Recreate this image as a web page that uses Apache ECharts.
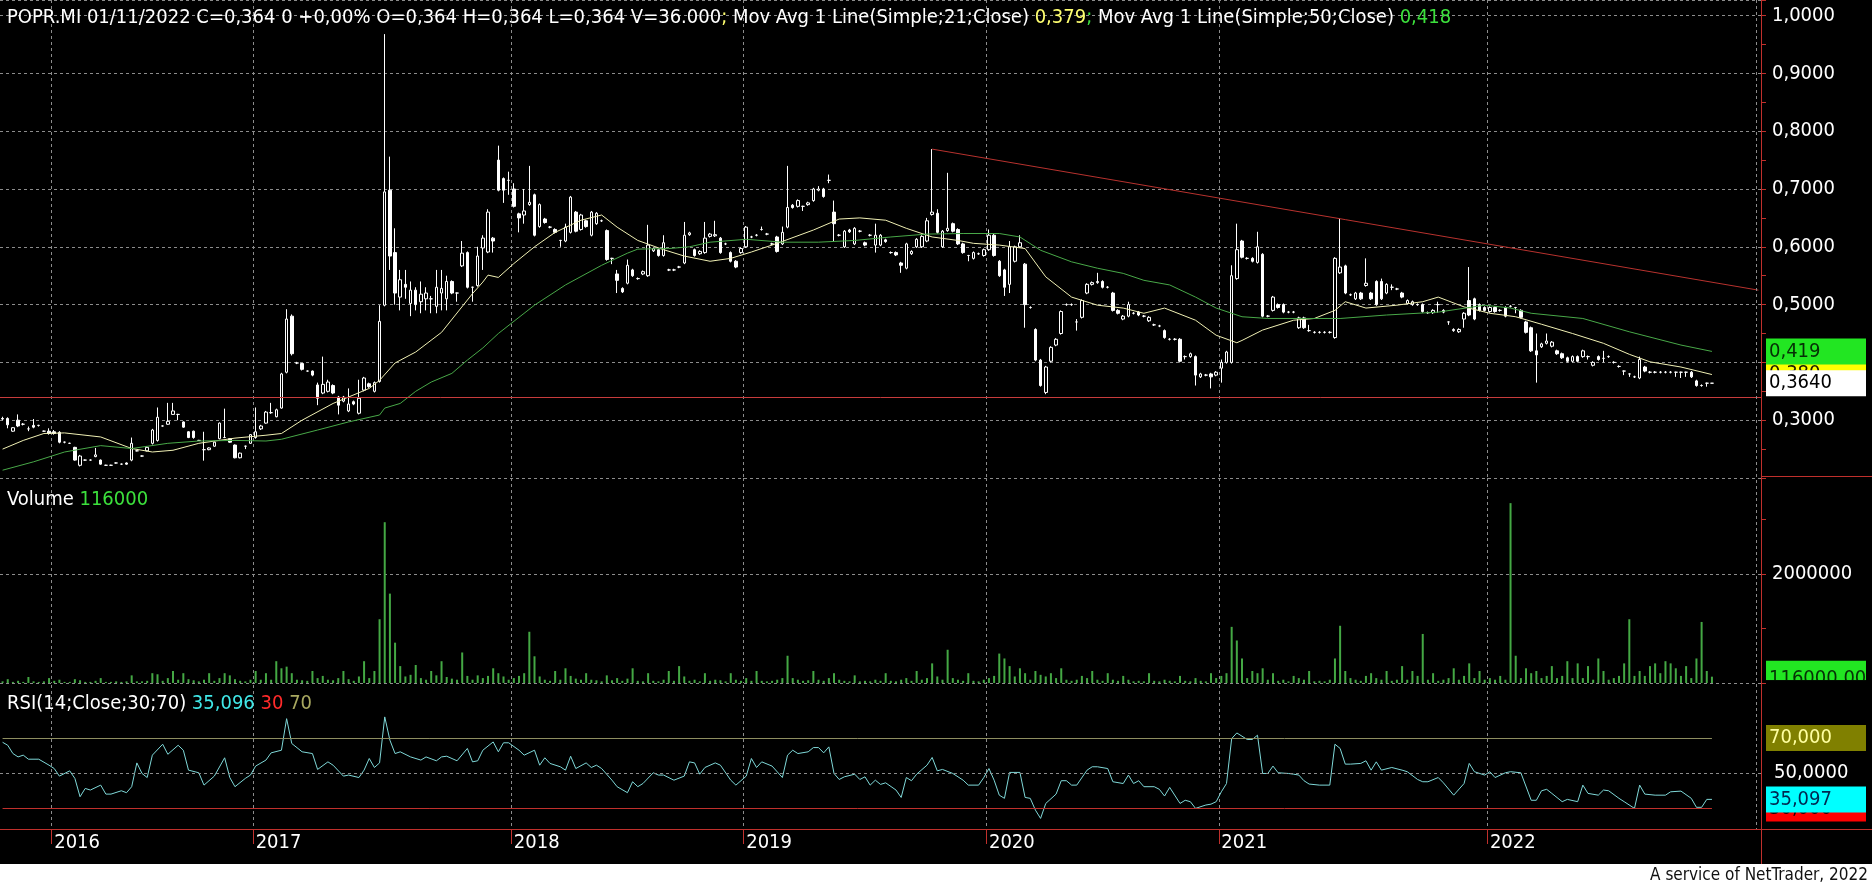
<!DOCTYPE html>
<html><head><meta charset="utf-8">
<script src="https://cdn.jsdelivr.net/npm/echarts@6/dist/echarts.min.js"></script>
<style>html,body{margin:0;padding:0;background:#000;overflow:hidden}#c{width:1872px;height:888px}</style>
</head><body><div id="c"></div>
<script>
// ---------- DATA ----------
const symbolName = 'POPR.MI';
const lastDate = '01/11/2022';
const lastVolumeDay = '36.000';
const years = [2015, 2016, 2017, 2018, 2019, 2020, 2021, 2022];
const weeksShown = [10, 39, 50, 45, 47, 45, 52, 53]; // weekly slots per year (illiquid weeks skipped), last year incl. empty future slots

// weekly candles [open, close, low, high]
const candles = [
// 2015 (end)
[0.303,0.302,0.300,0.306],[0.303,0.292,0.286,0.305],[0.281,0.287,0.280,0.288],[0.300,0.290,0.288,0.310],[0.293,0.293,0.291,0.295],
[0.285,0.285,0.281,0.289],[0.291,0.288,0.286,0.302],[0.291,0.291,0.289,0.292],[0.281,0.281,0.280,0.282],[0.281,0.277,0.275,0.286],
// 2016
[0.280,0.277,0.275,0.283],[0.279,0.262,0.260,0.281],[0.262,0.262,0.260,0.263],[0.260,0.260,0.259,0.261],[0.253,0.231,0.230,0.254],
[0.222,0.238,0.220,0.240],[0.231,0.231,0.230,0.232],[0.231,0.231,0.230,0.232],[0.237,0.240,0.236,0.252],[0.231,0.224,0.223,0.232],
[0.222,0.222,0.221,0.223],[0.222,0.222,0.221,0.223],[0.226,0.226,0.225,0.227],[0.224,0.224,0.223,0.225],[0.226,0.224,0.223,0.227],
[0.231,0.260,0.229,0.270],[0.247,0.247,0.246,0.248],[0.238,0.238,0.237,0.239],[0.247,0.253,0.246,0.255],[0.260,0.283,0.258,0.285],
[0.265,0.305,0.263,0.322],[0.290,0.290,0.289,0.291],[0.293,0.298,0.292,0.330],[0.310,0.316,0.309,0.330],[0.310,0.310,0.300,0.311],
[0.297,0.288,0.287,0.298],[0.280,0.270,0.269,0.281],[0.281,0.270,0.268,0.282],[0.265,0.265,0.264,0.266],[0.249,0.249,0.230,0.280],
[0.249,0.252,0.248,0.253],[0.255,0.262,0.254,0.263],[0.268,0.295,0.267,0.296],[0.270,0.270,0.269,0.320],[0.268,0.262,0.261,0.269],
[0.257,0.235,0.234,0.258],[0.235,0.243,0.234,0.244],[0.255,0.255,0.250,0.256],[0.260,0.275,0.259,0.276],
// 2017
[0.270,0.280,0.268,0.322],[0.285,0.290,0.283,0.292],[0.295,0.314,0.294,0.316],[0.313,0.313,0.311,0.330],[0.306,0.318,0.305,0.320],
[0.321,0.380,0.320,0.382],[0.383,0.475,0.381,0.492],[0.480,0.415,0.412,0.483],[0.399,0.399,0.397,0.401],[0.398,0.388,0.386,0.399],
[0.385,0.385,0.384,0.386],[0.385,0.378,0.376,0.386],[0.361,0.338,0.326,0.365],[0.347,0.362,0.345,0.410],[0.350,0.366,0.348,0.370],
[0.360,0.347,0.345,0.362],[0.340,0.326,0.310,0.342],[0.333,0.340,0.331,0.342],[0.316,0.328,0.314,0.355],[0.332,0.328,0.326,0.334],
[0.312,0.338,0.310,0.370],[0.352,0.373,0.350,0.375],[0.363,0.358,0.356,0.365],[0.350,0.365,0.348,0.367],[0.367,0.471,0.365,0.499],
[0.499,0.695,0.497,0.968],[0.698,0.584,0.560,0.756],[0.590,0.520,0.500,0.632],[0.513,0.543,0.490,0.560],[0.535,0.530,0.510,0.560],
[0.502,0.525,0.480,0.540],[0.525,0.500,0.490,0.530],[0.505,0.518,0.485,0.540],[0.510,0.520,0.490,0.530],[0.510,0.510,0.485,0.515],
[0.497,0.530,0.485,0.560],[0.520,0.528,0.490,0.560],[0.510,0.540,0.490,0.550],[0.540,0.520,0.518,0.542],[0.520,0.520,0.505,0.521],
[0.567,0.589,0.565,0.610],[0.590,0.530,0.528,0.592],[0.530,0.530,0.505,0.531],[0.533,0.584,0.531,0.600],[0.598,0.615,0.560,0.620],
[0.591,0.660,0.589,0.665],[0.615,0.610,0.590,0.617],[0.750,0.698,0.696,0.775],[0.718,0.698,0.676,0.720],[0.715,0.715,0.690,0.730],
// 2018
[0.700,0.670,0.668,0.710],[0.657,0.650,0.625,0.659],[0.655,0.662,0.640,0.700],[0.673,0.677,0.671,0.740],[0.690,0.620,0.618,0.692],
[0.635,0.673,0.633,0.675],[0.648,0.642,0.640,0.650],[0.634,0.634,0.632,0.636],[0.630,0.625,0.623,0.632],[0.611,0.611,0.600,0.612],
[0.610,0.634,0.608,0.640],[0.625,0.686,0.623,0.688],[0.660,0.627,0.625,0.662],[0.630,0.655,0.628,0.657],[0.645,0.635,0.633,0.647],
[0.620,0.660,0.618,0.662],[0.640,0.658,0.638,0.660],[0.645,0.645,0.643,0.647],[0.628,0.578,0.576,0.630],[0.580,0.580,0.570,0.581],
[0.553,0.542,0.520,0.560],[0.528,0.522,0.520,0.530],[0.537,0.568,0.535,0.578],[0.560,0.550,0.548,0.562],[0.545,0.545,0.543,0.547],
[0.553,0.557,0.551,0.559],[0.550,0.603,0.548,0.638],[0.593,0.597,0.591,0.599],[0.595,0.585,0.583,0.597],[0.585,0.607,0.583,0.620],
[0.560,0.560,0.558,0.562],[0.560,0.560,0.558,0.562],[0.565,0.565,0.563,0.567],[0.572,0.620,0.570,0.643],[0.621,0.624,0.619,0.626],
[0.595,0.585,0.583,0.597],[0.588,0.592,0.586,0.594],[0.590,0.615,0.588,0.643],[0.618,0.622,0.616,0.624],[0.619,0.621,0.617,0.645],
[0.615,0.590,0.588,0.617],[0.605,0.605,0.603,0.607],[0.590,0.575,0.573,0.592],[0.575,0.565,0.563,0.577],[0.590,0.597,0.588,0.599],
// 2019
[0.600,0.634,0.598,0.636],[0.617,0.617,0.615,0.619],[0.620,0.620,0.618,0.622],[0.630,0.630,0.628,0.635],[0.622,0.622,0.620,0.624],
[0.605,0.605,0.603,0.607],[0.617,0.592,0.590,0.619],[0.605,0.625,0.603,0.635],[0.634,0.668,0.632,0.740],[0.672,0.668,0.666,0.674],
[0.670,0.680,0.668,0.682],[0.670,0.670,0.662,0.671],[0.673,0.676,0.671,0.678],[0.680,0.700,0.678,0.702],[0.698,0.700,0.696,0.705],
[0.700,0.687,0.685,0.702],[0.715,0.715,0.710,0.725],[0.660,0.640,0.610,0.680],[0.620,0.620,0.618,0.622],[0.600,0.627,0.598,0.629],
[0.629,0.626,0.624,0.631],[0.605,0.632,0.603,0.634],[0.627,0.627,0.625,0.629],[0.607,0.603,0.601,0.609],[0.620,0.620,0.618,0.622],
[0.603,0.620,0.590,0.640],[0.603,0.620,0.601,0.622],[0.612,0.609,0.607,0.614],[0.590,0.590,0.588,0.592],[0.590,0.586,0.584,0.592],
[0.572,0.568,0.555,0.574],[0.563,0.605,0.561,0.607],[0.588,0.592,0.586,0.594],[0.600,0.613,0.598,0.615],[0.600,0.618,0.598,0.620],
[0.610,0.645,0.608,0.650],[0.656,0.660,0.654,0.769],[0.658,0.625,0.623,0.665],[0.600,0.627,0.598,0.629],[0.628,0.632,0.626,0.728],
[0.640,0.627,0.625,0.642],[0.630,0.605,0.603,0.632],[0.605,0.590,0.588,0.607],[0.585,0.585,0.575,0.586],[0.580,0.590,0.578,0.592],
[0.588,0.588,0.586,0.590],[0.585,0.595,0.583,0.597],
// 2020
[0.595,0.620,0.593,0.630],[0.620,0.585,0.583,0.622],[0.575,0.550,0.548,0.577],[0.560,0.530,0.515,0.562],[0.535,0.600,0.520,0.610],
[0.575,0.600,0.573,0.602],[0.600,0.607,0.598,0.620],[0.570,0.500,0.460,0.572],[0.495,0.495,0.493,0.497],[0.457,0.404,0.402,0.459],
[0.404,0.360,0.358,0.406],[0.348,0.392,0.345,0.394],[0.402,0.426,0.400,0.428],[0.430,0.440,0.428,0.442],[0.450,0.488,0.448,0.490],
[0.500,0.500,0.498,0.502],[0.500,0.500,0.498,0.502],[0.470,0.470,0.455,0.475],[0.478,0.507,0.476,0.509],[0.520,0.535,0.518,0.537],
[0.535,0.538,0.533,0.540],[0.538,0.540,0.536,0.555],[0.540,0.530,0.528,0.542],[0.530,0.530,0.528,0.532],[0.520,0.490,0.488,0.522],
[0.490,0.485,0.483,0.492],[0.475,0.480,0.473,0.482],[0.480,0.500,0.478,0.505],[0.485,0.485,0.483,0.487],[0.487,0.482,0.480,0.489],
[0.480,0.480,0.478,0.482],[0.472,0.478,0.470,0.480],[0.465,0.465,0.463,0.467],[0.463,0.463,0.461,0.465],[0.455,0.443,0.441,0.457],
[0.440,0.440,0.438,0.442],[0.440,0.440,0.438,0.442],[0.440,0.402,0.400,0.442],[0.410,0.410,0.405,0.412],[0.410,0.415,0.408,0.417],
[0.410,0.378,0.360,0.412],[0.375,0.380,0.373,0.382],[0.378,0.378,0.376,0.380],[0.380,0.375,0.355,0.382],[0.378,0.383,0.376,0.385],
// 2021
[0.390,0.400,0.365,0.405],[0.400,0.418,0.398,0.420],[0.400,0.550,0.398,0.568],[0.545,0.595,0.543,0.640],[0.610,0.582,0.580,0.612],
[0.580,0.580,0.578,0.582],[0.580,0.575,0.573,0.582],[0.573,0.600,0.571,0.626],[0.587,0.480,0.478,0.589],[0.480,0.480,0.478,0.482],
[0.490,0.513,0.488,0.515],[0.500,0.495,0.493,0.502],[0.500,0.487,0.485,0.502],[0.487,0.487,0.485,0.489],[0.487,0.487,0.485,0.489],
[0.460,0.477,0.458,0.479],[0.477,0.460,0.458,0.479],[0.455,0.455,0.453,0.465],[0.452,0.452,0.450,0.454],[0.452,0.452,0.450,0.454],
[0.452,0.452,0.450,0.454],[0.452,0.452,0.450,0.454],[0.443,0.580,0.441,0.582],[0.555,0.565,0.553,0.649],[0.567,0.520,0.518,0.569],
[0.517,0.517,0.515,0.519],[0.510,0.520,0.508,0.522],[0.520,0.510,0.508,0.522],[0.533,0.537,0.531,0.580],[0.520,0.510,0.508,0.522],
[0.540,0.500,0.498,0.542],[0.540,0.510,0.508,0.545],[0.520,0.535,0.518,0.537],[0.530,0.530,0.525,0.535],[0.527,0.527,0.525,0.529],
[0.520,0.513,0.511,0.522],[0.502,0.507,0.500,0.509],[0.500,0.505,0.498,0.507],[0.500,0.500,0.498,0.502],[0.500,0.488,0.486,0.502],
[0.486,0.486,0.484,0.488],[0.486,0.490,0.484,0.492],[0.500,0.500,0.486,0.505],[0.490,0.487,0.485,0.492],[0.470,0.470,0.465,0.471],
[0.455,0.457,0.453,0.459],[0.453,0.457,0.451,0.459],[0.475,0.485,0.460,0.487],[0.507,0.482,0.480,0.565],[0.510,0.475,0.473,0.512],
[0.500,0.490,0.488,0.502],[0.495,0.490,0.488,0.497],
// 2022
[0.488,0.495,0.486,0.497],[0.495,0.488,0.486,0.497],[0.490,0.490,0.488,0.492],[0.495,0.480,0.478,0.497],[0.497,0.497,0.495,0.499],
[0.495,0.495,0.485,0.496],[0.490,0.478,0.476,0.492],[0.470,0.452,0.450,0.472],[0.460,0.420,0.418,0.462],[0.420,0.413,0.365,0.450],
[0.427,0.432,0.425,0.434],[0.433,0.437,0.431,0.450],[0.428,0.435,0.426,0.437],[0.420,0.415,0.413,0.422],[0.415,0.408,0.406,0.417],
[0.408,0.402,0.400,0.410],[0.402,0.410,0.400,0.412],[0.410,0.402,0.400,0.412],[0.410,0.420,0.408,0.422],[0.410,0.410,0.405,0.412],
[0.395,0.400,0.393,0.402],[0.410,0.405,0.403,0.412],[0.407,0.407,0.400,0.420],[0.410,0.410,0.408,0.412],[0.400,0.400,0.398,0.402],
[0.393,0.393,0.391,0.395],[0.385,0.385,0.378,0.386],[0.380,0.380,0.375,0.381],[0.375,0.375,0.373,0.377],[0.373,0.405,0.371,0.410],
[0.392,0.385,0.383,0.394],[0.383,0.383,0.381,0.385],[0.383,0.383,0.381,0.385],[0.383,0.383,0.381,0.385],[0.383,0.383,0.381,0.385],
[0.383,0.383,0.381,0.385],[0.383,0.383,0.375,0.384],[0.383,0.383,0.373,0.384],[0.383,0.383,0.375,0.384],[0.383,0.375,0.373,0.385],
[0.368,0.360,0.358,0.370],[0.360,0.360,0.358,0.362],[0.364,0.364,0.358,0.365],[0.364,0.364,0.364,0.364]
];

const volumes = [
30000,70000,20000,40000,20000,110000,30000,20000,30000,90000,
40000,60000,20000,20000,70000,50000,20000,20000,40000,90000,
20000,20000,30000,20000,30000,140000,30000,30000,40000,180000,
160000,40000,90000,220000,60000,180000,70000,50000,30000,60000,
180000,40000,90000,180000,140000,70000,40000,30000,60000,220000,
60000,180000,60000,400000,270000,300000,180000,60000,50000,40000,
220000,90000,130000,60000,50000,90000,220000,70000,40000,120000,
400000,90000,220000,1170000,2950000,1640000,740000,310000,120000,150000,
330000,90000,60000,220000,140000,400000,110000,80000,60000,560000,
130000,60000,140000,90000,130000,270000,180000,120000,60000,90000,
130000,180000,940000,490000,120000,60000,40000,220000,60000,270000,
130000,80000,60000,180000,60000,50000,30000,140000,50000,90000,
40000,80000,270000,40000,30000,180000,40000,30000,60000,220000,
40000,310000,120000,40000,60000,30000,180000,40000,60000,50000,
30000,180000,60000,40000,90000,40000,220000,40000,30000,40000,
60000,90000,500000,90000,60000,40000,50000,220000,60000,40000,
90000,180000,60000,40000,30000,140000,30000,40000,30000,60000,
40000,180000,40000,30000,60000,90000,40000,220000,60000,90000,
360000,120000,60000,610000,90000,60000,40000,180000,40000,30000,
60000,90000,130000,540000,450000,310000,120000,270000,180000,60000,
220000,150000,120000,180000,90000,270000,60000,40000,60000,130000,
90000,220000,60000,40000,180000,60000,40000,130000,60000,30000,
40000,30000,180000,40000,30000,60000,40000,30000,130000,40000,
30000,90000,40000,30000,180000,90000,130000,180000,1030000,780000,
450000,90000,220000,180000,270000,60000,180000,40000,60000,30000,
130000,90000,60000,220000,30000,40000,30000,60000,450000,1050000,
220000,90000,60000,40000,130000,180000,90000,60000,220000,40000,
60000,310000,60000,220000,130000,900000,60000,180000,40000,60000,
90000,270000,60000,130000,360000,90000,220000,60000,90000,60000,
130000,60000,3300000,500000,90000,270000,180000,220000,90000,130000,
310000,90000,130000,400000,90000,360000,90000,310000,60000,450000,
220000,60000,90000,130000,360000,1170000,130000,220000,130000,310000,
360000,180000,400000,360000,270000,130000,310000,90000,450000,1120000,
220000,116000
];

// moving averages: [week index, value]
const ma21 = [[0,0.250],[4,0.265],[8,0.277],[12,0.278],[19,0.271],[25,0.251],[29,0.245],[33,0.248],[38,0.260],[45,0.269],[51,0.274],[54,0.277],[58,0.300],[64,0.329],[71,0.355],[73,0.369],[76,0.399],[80,0.418],[85,0.452],[91,0.519],[93,0.539],[94,0.551],[96,0.547],[99,0.571],[103,0.600],[107,0.625],[112,0.646],[116,0.655],[119,0.634],[123,0.611],[128,0.595],[132,0.584],[137,0.575],[141,0.580],[145,0.591],[150,0.606],[157,0.629],[162,0.648],[166,0.650],[171,0.646],[175,0.632],[180,0.617],[185,0.611],[188,0.606],[193,0.603],[198,0.597],[202,0.548],[207,0.513],[212,0.499],[217,0.494],[221,0.485],[225,0.494],[231,0.473],[235,0.447],[239,0.434],[240,0.438],[244,0.456],[250,0.473],[254,0.476],[258,0.490],[260,0.505],[264,0.494],[270,0.499],[275,0.505],[278,0.513],[283,0.496],[288,0.485],[293,0.479],[298,0.466],[304,0.450],[310,0.433],[315,0.414],[319,0.401],[325,0.392],[331,0.379]];
const ma50 = [[0,0.2135],[6,0.228],[12,0.245],[19,0.256],[25,0.251],[32,0.260],[38,0.264],[45,0.265],[51,0.264],[54,0.267],[61,0.283],[67,0.297],[73,0.309],[74,0.321],[77,0.329],[80,0.350],[83,0.366],[87,0.381],[90,0.404],[93,0.425],[96,0.450],[103,0.499],[109,0.534],[116,0.568],[121,0.589],[123,0.596],[129,0.597],[133,0.600],[137,0.608],[144,0.613],[151,0.608],[158,0.608],[165,0.611],[172,0.617],[179,0.622],[186,0.623],[193,0.623],[197,0.617],[201,0.594],[207,0.574],[212,0.563],[217,0.554],[221,0.542],[226,0.534],[231,0.513],[235,0.494],[240,0.479],[245,0.476],[254,0.476],[259,0.476],[268,0.482],[278,0.487],[287,0.499],[292,0.494],[296,0.485],[306,0.476],[315,0.453],[325,0.430],[331,0.419]];

const rsiPoints = [[0,67.5],[1,65.8],[2,61.1],[3,59.2],[4,60.2],[5,57.9],[7,57.9],[9,54.5],[10,52.6],[11,48.3],[13,51.3],[14,47],[15,36.6],[16,41.3],[17,40.4],[19,43.2],[20,38.1],[21,38.1],[23,40],[24,38.9],[25,42.3],[26,55.8],[27,49.8],[28,47.5],[29,60.2],[31,66.4],[32,60.7],[34,65.8],[35,63],[36,51.7],[38,50.2],[39,43.2],[41,48.3],[43,58.7],[44,47.5],[45,42.3],[47,47],[48,48.9],[49,54],[51,57.4],[52,61.5],[54,63],[55,80.9],[56,66.8],[58,62.1],[60,61.1],[61,52.1],[63,56.4],[64,54.5],[66,48.3],[67,48.9],[69,47.5],[70,51.7],[71,58.3],[72,53.2],[73,55.8],[74,81.9],[75,68.7],[76,61.1],[77,62.1],[79,59.2],[81,57.4],[82,59.2],[84,57],[85,59.2],[86,59.6],[88,57],[90,64],[91,56.4],[92,57],[93,63],[95,67.7],[96,62.1],[97,67.2],[98,67.2],[100,63],[101,60.2],[103,63],[104,54.5],[105,58.7],[106,55.5],[108,53.6],[109,51.7],[110,59.6],[111,52.6],[113,55.8],[114,53.2],[115,54.5],[116,52.6],[118,46],[119,42.3],[121,38.9],[122,45.1],[123,42.3],[124,44.1],[126,50.2],[127,48.9],[128,48.9],[130,46],[132,48.3],[133,56.4],[134,55.8],[135,49.4],[136,53.2],[138,55.8],[139,54.5],[141,46],[142,43.2],[144,48.3],[145,58.3],[146,53.2],[147,56.4],[149,54],[151,47.5],[152,60.2],[153,63],[154,61.1],[156,62.1],[157,64.5],[158,64.5],[159,61.5],[160,64.9],[161,49.8],[162,46.4],[163,47.9],[165,49.4],[166,46.4],[167,47.9],[168,43.2],[169,46],[170,43.6],[171,44.5],[173,40.4],[174,36.2],[175,47.5],[176,45.7],[177,49.4],[179,54.5],[180,58.9],[181,51.3],[182,52.1],[184,49.8],[186,46],[187,43.2],[189,43.2],[190,47.5],[191,52.6],[192,46],[193,37.5],[194,35.7],[195,50.4],[197,50.4],[198,36.2],[199,35.7],[200,29],[201,24.3],[202,32.8],[204,38.1],[205,45.7],[206,45.7],[207,43.2],[208,43.2],[210,51.7],[211,53.6],[212,53.6],[214,52.6],[215,45.1],[217,44.1],[218,48.9],[219,44.1],[220,45.7],[221,42.3],[223,42.3],[224,40.8],[225,37],[226,41.9],[228,32.8],[229,34.6],[230,33.8],[231,30],[233,31.9],[234,32.4],[235,33.8],[236,39.4],[237,44.1],[238,69.6],[239,72.8],[241,69.1],[242,69.1],[243,71.5],[244,49.8],[245,49.8],[246,54],[247,50.2],[249,49.8],[250,49.4],[251,48.9],[252,45.7],[253,43.8],[255,43.2],[257,43.2],[258,66.4],[259,64],[260,55.1],[261,55.1],[263,55.5],[264,57],[265,51.7],[266,56.4],[267,51.7],[269,53.2],[271,51.7],[272,50.8],[274,46.4],[275,45.1],[276,45.1],[278,47.5],[279,44.5],[281,37.5],[283,44.1],[284,55.5],[285,50.8],[287,48.9],[288,50.8],[289,47.5],[291,50.2],[292,50.8],[294,50.2],[296,34.6],[297,34.6],[298,40],[299,40.8],[300,38.5],[302,33.8],[303,35.1],[305,33.8],[306,43.2],[307,38.5],[309,37.5],[310,40.4],[311,40],[313,35.7],[314,33.8],[316,30],[317,43.2],[318,38.1],[320,37.5],[322,37.5],[323,39.4],[325,39.8],[327,35.7],[328,30.6],[329,30.6],[330,35.1],[331,35.1]];

const trendLine = [[180, 0.769], [340, 0.525]];
const supportLevel = 0.3445;
const rsiLevels = [30, 50, 70];
const lastMa21 = 0.379, lastMa50 = 0.418, boxMa50 = 0.419, boxMa21 = 0.380;
const lastRsiText = 35.096, boxRsi = 35.097;
const volumeTickLabel = 2000000;

// ---------- BUILD ----------
const categories = [];
years.forEach((y, i) => { for (let w = 1; w <= weeksShown[i]; w++) categories.push(y + '-' + String(w).padStart(2, '0')); });
const isYearStart = i => i > 0 && categories[i].slice(0, 4) !== categories[i - 1].slice(0, 4);

const FONT = '"DejaVu Sans Condensed","DejaVu Sans",sans-serif';
const FS = 20;
const RED = '#c0302c';
const GRIDC = '#8c8c8c';
const fmt = (v, d) => v.toFixed(d).replace('.', ',');
const last = candles[candles.length - 1];
const PRICE_MIN = 0.2, PRICE_MAX = 1.027;

function xAx(g, show) {
  return {
    type: 'category', gridIndex: g, data: categories, boundaryGap: true,
    axisLine: { show: false },
    offset: show ? 3 : 0,
    axisTick: { show: show, interval: (i) => isYearStart(i), length: 15, lineStyle: { color: RED } },
    axisLabel: { show: show, interval: (i) => isYearStart(i), formatter: v => v.slice(0, 4), color: '#fff', fontSize: FS, fontFamily: FONT, align: 'left', margin: 4 },
    splitLine: { show: true, interval: (i) => isYearStart(i), lineStyle: { color: GRIDC, type: [3, 3], width: 1 } }
  };
}

const chart = echarts.init(document.getElementById('c'), null, { renderer: 'canvas' });
const base = { fontSize: FS, fontFamily: FONT, fontWeight: 'normal' };
const rich = {
  w: Object.assign({ color: '#ffffff' }, base),
  y: Object.assign({ color: '#ffff70' }, base),
  g: Object.assign({ color: '#3ce03c' }, base),
  c: Object.assign({ color: '#40e8e8' }, base),
  r: Object.assign({ color: '#ff2a2a' }, base),
  o: Object.assign({ color: '#a8a860' }, base)
};
const header = '{w|' + symbolName + ' ' + lastDate + ' C=' + fmt(last[1], 3) + ' 0 +0,00% O=' + fmt(last[0], 3) + ' H=' + fmt(last[3], 3) + ' L=' + fmt(last[2], 3) + ' V=' + lastVolumeDay + '}{y|; }{w|Mov Avg 1 Line(Simple;21;Close) }{y|' + fmt(lastMa21, 3) + '}{g|; }{w|Mov Avg 1 Line(Simple;50;Close) }{g|' + fmt(lastMa50, 3) + '}';
const tStyle = { fontWeight: 'normal', fontSize: FS, fontFamily: FONT, rich };

chart.setOption({
  backgroundColor: '#000000',
  animation: false,
  title: [
    { left: 2, top: 3, text: header, textStyle: tStyle },
    { left: 2, top: 485, text: '{w|Volume }{g|' + volumes[volumes.length - 1] + '}', textStyle: tStyle },
    { left: 2, top: 689, text: '{w|RSI(14;Close;30;70) }{c|' + fmt(lastRsiText, 3) + '}{w| }{r|30}{w| }{o|70}', textStyle: tStyle }
  ],
  grid: [
    { left: 0, right: 111, top: 0, height: 478 },
    { left: 0, right: 111, top: 478, height: 205 },
    { left: 0, right: 111, top: 685, height: 141 }
  ],
  xAxis: [xAx(0, false), xAx(1, false), xAx(2, true)],
  yAxis: [
    { type: 'value', gridIndex: 0, position: 'right', min: PRICE_MIN, max: PRICE_MAX, interval: 0.1,
      axisLine: { show: true, lineStyle: { color: RED } },
      axisTick: { show: true, length: 5, lineStyle: { color: RED } },
      minorTick: { show: true, splitNumber: 2, length: 5, lineStyle: { color: RED } },
      axisLabel: { color: '#fff', fontSize: FS, fontFamily: FONT, margin: 11,
        formatter: v => (Math.abs(v * 10 - Math.round(v * 10)) < 1e-6 && v > 0.25 && v < 1.01) ? fmt(v, 4) : '' },
      splitLine: { show: true, lineStyle: { color: GRIDC, type: [3, 3] } } },
    { type: 'value', gridIndex: 1, position: 'right', min: 0, max: 3761000, interval: 2000000,
      axisLine: { show: true, lineStyle: { color: RED } },
      axisTick: { show: true, length: 5, lineStyle: { color: RED } },
      minorTick: { show: true, splitNumber: 2, length: 5, lineStyle: { color: RED } },
      axisLabel: { color: '#fff', fontSize: FS, fontFamily: FONT, margin: 11, formatter: v => v === volumeTickLabel ? String(v) : '' },
      splitLine: { show: true, lineStyle: { color: GRIDC, type: [3, 3] } } },
    { type: 'value', gridIndex: 2, position: 'right', min: 20, max: 100, interval: 10,
      axisLine: { show: true, lineStyle: { color: RED } },
      axisTick: { show: false },
      axisLabel: { color: '#fff', fontSize: FS, fontFamily: FONT, margin: 13, formatter: v => v === 50 ? '50,0000' : '' },
      splitLine: { show: false } }
  ],
  series: [
    { type: 'candlestick', xAxisIndex: 0, yAxisIndex: 0, data: candles, barWidth: 3,
      itemStyle: { color: '#000000', color0: '#ffffff', borderColor: '#ffffff', borderColor0: '#ffffff', borderWidth: 1 },
      markLine: { symbol: 'none', silent: true, label: { show: false }, lineStyle: { color: '#c83c3c', width: 1, type: 'solid' },
        data: [{ yAxis: supportLevel }] } },
    { type: 'line', xAxisIndex: 0, yAxisIndex: 0, data: ma21, showSymbol: false, lineStyle: { color: '#f0f0b4', width: 1 } },
    { type: 'line', xAxisIndex: 0, yAxisIndex: 0, data: ma50, showSymbol: false, lineStyle: { color: '#48a848', width: 1 } },
    { type: 'line', xAxisIndex: 0, yAxisIndex: 0, data: trendLine, showSymbol: false, lineStyle: { color: '#b8322e', width: 1 } },
    { type: 'bar', xAxisIndex: 1, yAxisIndex: 1, data: volumes, barWidth: 2, itemStyle: { color: '#44a844' } },
    { type: 'line', xAxisIndex: 2, yAxisIndex: 2, data: rsiPoints, showSymbol: false, lineStyle: { color: '#7fd8d8', width: 1 },
      markLine: { symbol: 'none', silent: true, label: { show: false },
        data: [
          [{ coord: [0, rsiLevels[2]], lineStyle: { color: '#8e8e60', width: 1, type: 'solid' } }, { coord: [candles.length - 1, rsiLevels[2]] }],
          [{ coord: [0, rsiLevels[0]], lineStyle: { color: '#c0302c', width: 1, type: 'solid' } }, { coord: [candles.length - 1, rsiLevels[0]] }],
          { yAxis: rsiLevels[1], lineStyle: { color: GRIDC, width: 1, type: [3, 3] } }
        ] } }
  ]
});

// value boxes on the right axis, placed through the axes' own scales
const g = [];
const BX = 1766, BW = 100, BH = 26;
let zTop = 100;
function box(y, fill, text, color) {
  zTop += 2;
  g.push({ type: 'rect', shape: { x: BX, y: y - BH / 2, width: BW, height: BH }, style: { fill }, z: zTop });
  g.push({ type: 'text', x: BX + 3, y: y, style: { text, fill: color, font: FS + 'px ' + FONT, verticalAlign: 'middle', textVerticalAlign: 'middle' }, z: zTop + 1 });
}
const py = v => chart.convertToPixel({ yAxisIndex: 0 }, v);
const vy = v => chart.convertToPixel({ yAxisIndex: 1 }, v);
const ry = v => chart.convertToPixel({ yAxisIndex: 2 }, v);
// axis-area lines
g.push({ type: 'line', shape: { x1: 1761.5, y1: 0, x2: 1761.5, y2: 864 }, style: { stroke: RED, lineWidth: 1 }, z: 90 });
g.push({ type: 'line', shape: { x1: 1756.5, y1: 0, x2: 1756.5, y2: 829 }, style: { stroke: GRIDC, lineWidth: 1, lineDash: [3, 3] }, z: 90 });
g.push({ type: 'line', shape: { x1: 1761, y1: 476.5, x2: 1872, y2: 476.5 }, style: { stroke: RED, lineWidth: 1 }, z: 90 });
g.push({ type: 'line', shape: { x1: 0, y1: 829.5, x2: 1872, y2: 829.5 }, style: { stroke: RED, lineWidth: 1 }, z: 90 });
// price boxes (drawn in stacking order)
box(py(boxMa21), '#ffff00', fmt(boxMa21, 3), '#202000');
box(py(last[1]), '#ffffff', fmt(last[1], 4), '#000000');
box(py(boxMa50), '#22e622', fmt(boxMa50, 3), '#063006');
// volume box (clipped)
const vVal = volumes[volumes.length - 1];
const vY = vy(vVal);
g.push({ type: 'rect', shape: { x: BX, y: vY - 16, width: BW, height: 19.5 }, style: { fill: '#22e622' }, z: 100 });
g.push({ type: 'text', x: BX + 3, y: vY + 2, style: { text: vVal + ',000', fill: '#063006', font: FS + 'px ' + FONT, verticalAlign: 'middle', textVerticalAlign: 'middle' }, z: 101 });
g.push({ type: 'rect', shape: { x: BX, y: vY + 3.5, width: 106, height: 8 }, style: { fill: '#000' }, z: 102 });
g.push({ type: 'rect', shape: { x: BX + BW, y: vY - 20, width: 6, height: 30 }, style: { fill: '#000' }, z: 102 });
// RSI boxes
box(ry(rsiLevels[2]), '#808000', fmt(rsiLevels[2], 3), '#ffffa0');
box(ry(rsiLevels[0]), '#ff0000', fmt(rsiLevels[0], 3), '#200000');
box(ry(boxRsi), '#00ffff', fmt(boxRsi, 3), '#002850');
// footer
g.push({ type: 'rect', shape: { x: 0, y: 864, width: 1872, height: 24 }, style: { fill: '#ffffff' }, z: 200 });
g.push({ type: 'text', x: 1868, y: 876, style: { text: 'A service of NetTrader, 2022', fill: '#111', font: '17px ' + FONT, align: 'right', textAlign: 'right', verticalAlign: 'middle', textVerticalAlign: 'middle' }, z: 201 });
chart.setOption({ graphic: g });
</script>
</body></html>
